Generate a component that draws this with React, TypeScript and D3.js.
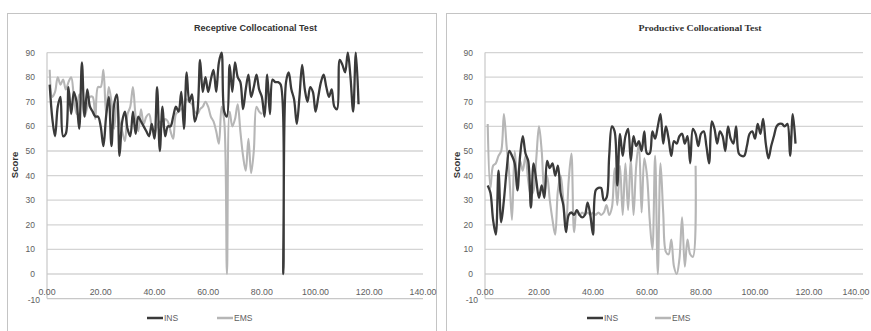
import React from "react";
import * as d3 from "d3";

// ---- Data (x = respondent index, y = score) ----
const xTicks = [0, 20, 40, 60, 80, 100, 120, 140];
const yTicks = [-10, 0, 10, 20, 30, 40, 50, 60, 70, 80, 90];
const seriesNames = ["INS", "EMS"];

const receptiveINS = [
  77, 63, 56, 68, 72, 56, 57, 76, 65, 74, 70, 59, 86, 64, 75, 68, 66, 64, 64, 60,
  52, 64, 72, 52, 69, 73, 48, 62, 66, 59, 56, 66, 57, 64, 62, 60, 58, 56, 61, 55,
  76, 50, 68, 56, 60, 60, 64, 68, 66, 74, 59, 82, 70, 73, 62, 66, 87, 74, 80, 74,
  79, 83, 74, 86, 90, 66, 64, 85, 74, 86, 80, 78, 67, 75, 81, 72, 76, 81, 75, 72,
  64, 81, 65, 79, 78, 78, 77, 0, 78, 82, 75, 71, 61, 72, 85, 75, 70, 76, 74, 66,
  72, 78, 81, 76, 72, 75, 68, 67, 87, 85, 82, 90, 80, 66, 90, 69,
];
const receptiveEMS = [
  83, 72, 74, 80, 77, 79, 75, 78, 80, 72, 65, 73, 70, 64, 68, 72, 72, 63, 76, 76,
  83, 65, 76, 70, 59, 70, 62, 58, 54, 65, 68, 76, 64, 58, 67, 61, 64, 65, 60, 57,
  60, 62, 60, 63, 62, 58, 55, 65, 66, 67, 68, 71, 70, 69, 66, 65, 67, 68, 70, 68,
  64, 62, 58, 53, 68, 62, 0, 66, 60, 63, 69, 58, 48, 42, 55, 41, 50, 68, 66, 65,
];
const productiveINS = [
  36, 33, 22, 16, 42, 21, 30, 42, 50, 48, 45, 34, 48, 56, 49, 46, 27, 45, 38, 31,
  36, 31, 46, 43, 45, 40, 44, 33, 28, 17, 24, 25, 24, 26, 24, 23, 24, 29, 24, 16,
  34, 35, 35, 30, 31, 48, 60, 58, 36, 57, 48, 56, 59, 46, 56, 52, 54, 50, 58, 49,
  49, 58, 55, 60, 65, 53, 60, 55, 48, 54, 53, 56, 57, 53, 56, 45, 59, 57, 52, 57,
  58, 52, 45, 62, 59, 53, 58, 56, 50, 60, 55, 53, 60, 49, 48, 48, 52, 57, 58, 55,
  61, 57, 63, 53, 47, 52, 56, 60, 61, 61, 60, 61, 48, 65, 53,
];
const productiveEMS = [
  61, 35, 44, 45, 48, 50, 65, 52, 40, 22, 50, 38, 46, 42, 48, 38, 32, 34, 47, 60,
  50, 33, 40, 30, 22, 16, 34, 40, 30, 19, 38, 49, 17, 26, 24, 25, 24, 25, 24, 25,
  24, 25, 24, 25, 28, 24, 27, 43, 28, 44, 24, 45, 26, 47, 24, 44, 53, 25, 47, 40,
  22, 10, 48, 0, 45, 25, 9, 8, 14, 3, 0, 6, 23, 3, 14, 8, 7, 44,
];

const toPoints = (vals: number[]) => vals.map((v, i) => ({ x: i + 1, y: v }));

const INS_COLOR = "#3a3a3a";
const EMS_COLOR = "#b6b6b6";
const GRID = "#d4d4d4";
const TEXT = "#5e5e5e";
const SANS = "Liberation Sans, Arial, sans-serif";

type PanelProps = {
  title: string;
  titleFont: string;
  ins: number[];
  ems: number[];
  left: number;
  right: number;
  frameX: number;
  frameW: number;
  scoreX: number;
  legendIns: number;
  legendEms: number;
};

function Panel(p: PanelProps) {
  const x = d3.scaleLinear().domain([0, 140]).range([p.left, p.right]);
  const y = d3.scaleLinear().domain([-10, 90]).range([298.6, 52.6]);
  const line = d3
    .line<{ x: number; y: number }>()
    .x((d) => x(d.x))
    .y((d) => y(d.y))
    .curve(d3.curveCatmullRom.alpha(0.5));
  const titleX = (p.frameX + p.frameX + p.frameW) / 2 + 34;
  return (
    <g>
      <rect x={p.frameX + 0.5} y={13.5} width={p.frameW} height={330} fill="#fff" stroke="#c4c4c4" strokeWidth={1} />
      <text x={titleX} y={31} textAnchor="middle" fontFamily={p.titleFont} fontWeight="bold" fontSize={9} fill="#333" textLength={123} lengthAdjust="spacingAndGlyphs">
        {p.title}
      </text>
      {yTicks.filter((t) => t >= 0).map((t) => (
        <line key={"g" + t} x1={p.left} x2={p.right} y1={y(t)} y2={y(t)} stroke={GRID} strokeWidth={1.3} />
      ))}
      <line x1={p.left} x2={p.right} y1={y(-10)} y2={y(-10)} stroke="#c8c8c8" strokeWidth={1.2} />
      <line x1={p.left} x2={p.left} y1={y(-10)} y2={y(90)} stroke="#c8c8c8" strokeWidth={1.2} />
      {yTicks.map((t) => (
        <text key={"yl" + t} x={t < 0 ? p.left - 7 : p.left - 12} y={t < 0 ? y(t) + 4 : y(t) + 3} textAnchor="end" fontFamily={SANS} fontSize={8.5} fill={TEXT}>
          {t}
        </text>
      ))}
      {xTicks.map((t) => {
        const lx = Math.min(x(t), 871 - 15);
        return (
          <text key={"xl" + t} x={lx} y={y(-10) - 4} textAnchor="middle" fontFamily={SANS} fontSize={8.8} fill={TEXT}>
            {t.toFixed(2)}
          </text>
        );
      })}
      <text transform={`translate(${p.scoreX},${165}) rotate(-90)`} textAnchor="middle" fontFamily={SANS} fontWeight="bold" fontSize={9.5} fill="#333">
        Score
      </text>
      <path d={line(toPoints(p.ems)) || ""} fill="none" stroke={EMS_COLOR} strokeWidth={2.1} strokeLinejoin="round" />
      <path d={line(toPoints(p.ins)) || ""} fill="none" stroke={INS_COLOR} strokeWidth={2.3} strokeLinejoin="round" />
      <line x1={p.legendIns} x2={p.legendIns + 16} y1={318} y2={318} stroke={INS_COLOR} strokeWidth={2.5} />
      <text x={p.legendIns + 17} y={321} fontFamily={SANS} fontSize={8.5} fill={TEXT}>
        {seriesNames[0]}
      </text>
      <line x1={p.legendEms} x2={p.legendEms + 16} y1={318} y2={318} stroke={EMS_COLOR} strokeWidth={2.5} />
      <text x={p.legendEms + 17} y={321} fontFamily={SANS} fontSize={8.5} fill={TEXT}>
        {seriesNames[1]}
      </text>
    </g>
  );
}

export default function App() {
  return (
    <svg width={871} height={331} style={{ position: "absolute", left: 0, top: 0, background: "#fff" }}>
      <rect x={0} y={0} width={871} height={331} fill="#fff" />
      <Panel
        title="Receptive Collocational Test"
        titleFont={SANS}
        ins={receptiveINS}
        ems={receptiveEMS}
        left={47}
        right={423}
        frameX={7}
        frameW={429}
        scoreX={18}
        legendIns={147}
        legendEms={217}
      />
      <Panel
        title="Productive Collocational Test"
        titleFont="Liberation Serif, Times New Roman, serif"
        ins={productiveINS}
        ems={productiveEMS}
        left={485}
        right={863}
        frameX={446}
        frameW={440}
        scoreX={460}
        legendIns={587}
        legendEms={655}
      />
    </svg>
  );
}
